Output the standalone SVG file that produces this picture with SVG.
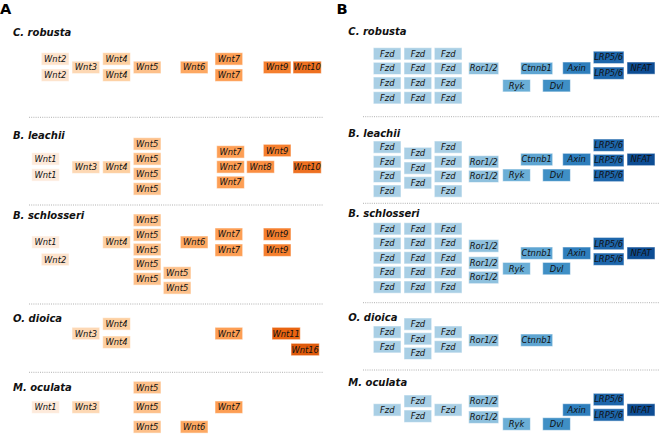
<svg xmlns="http://www.w3.org/2000/svg" width="660" height="434" viewBox="0 0 660 434">
<style>
text{font-family:"DejaVu Sans","Liberation Sans",sans-serif;}
.n rect{stroke:#fff;stroke-opacity:0.55;stroke-width:1;}
.n text{font-size:8.4px;font-style:italic;fill:#111;text-anchor:middle;}
.ttl{font-size:10px;font-weight:bold;font-style:italic;fill:#111;}
.pl{font-size:14.6px;font-weight:bold;fill:#000;}
.sep{stroke:#a8a8a8;stroke-width:0.9;stroke-dasharray:1 1.2;}
.w1{fill:#fdeadb}.w2{fill:#fde3cc}.w3{fill:#fdd8b4}.w4{fill:#fdcfa0}.w5{fill:#fdc08a}.w6{fill:#fda862}.w7{fill:#fd9e54}.w8{fill:#fa8d41}.w9{fill:#f57f2e}.w10{fill:#ee7020}.w11{fill:#e96410}.w16{fill:#df5a0b}
.fz{fill:#a9cfe5}.ro{fill:#8fc1de}.ry{fill:#6aaed6}.ct{fill:#5ea5d2}.dv{fill:#3f8fc5}.ax{fill:#2e7ebc}.lr{fill:#1d66ab}.nf{fill:#0d4d94}
</style>
<g id="labels">
<text class="pl" x="0" y="13.6">A</text>
<text class="pl" x="336.5" y="13.6">B</text>
<text class="ttl" x="13" y="35.5">C. robusta</text>
<text class="ttl" x="13" y="139">B. leachii</text>
<text class="ttl" x="13" y="219">B. schlosseri</text>
<text class="ttl" x="13" y="321.5">O. dioica</text>
<text class="ttl" x="13" y="390.5">M. oculata</text>
<text class="ttl" x="348.3" y="35">C. robusta</text>
<text class="ttl" x="348.3" y="136.7">B. leachii</text>
<text class="ttl" x="348.3" y="217.3">B. schlosseri</text>
<text class="ttl" x="348.3" y="320.7">O. dioica</text>
<text class="ttl" x="348.3" y="386">M. oculata</text>
</g>
<g id="separators">
<line class="sep" x1="29" y1="117.3" x2="323" y2="117.3"/>
<line class="sep" x1="29" y1="205" x2="323" y2="205"/>
<line class="sep" x1="29" y1="304" x2="323" y2="304"/>
<line class="sep" x1="29" y1="372.3" x2="323" y2="372.3"/>
<line class="sep" x1="363" y1="116.7" x2="660" y2="116.7"/>
<line class="sep" x1="363" y1="203.3" x2="660" y2="203.3"/>
<line class="sep" x1="363" y1="302.7" x2="660" y2="302.7"/>
<line class="sep" x1="363" y1="370" x2="660" y2="370"/>
</g>
<g id="connectors"></g>

<!-- Panel A: C. robusta -->
<g id="a-cr-wnt2-1" class="n"><rect class="w2" x="41.3" y="52.7" width="27.7" height="12.4"/><text x="55.2" y="61.9">Wnt2</text></g>
<g id="a-cr-wnt2-2" class="n"><rect class="w2" x="41.3" y="69" width="27.7" height="12.4"/><text x="55.2" y="78.2">Wnt2</text></g>
<g id="a-cr-wnt3" class="n"><rect class="w3" x="72" y="61.2" width="27.7" height="12.4"/><text x="85.9" y="70.4">Wnt3</text></g>
<g id="a-cr-wnt4-1" class="n"><rect class="w4" x="102.7" y="52.7" width="27.7" height="12.4"/><text x="116.6" y="61.9">Wnt4</text></g>
<g id="a-cr-wnt4-2" class="n"><rect class="w4" x="102.7" y="69" width="27.7" height="12.4"/><text x="116.6" y="78.2">Wnt4</text></g>
<g id="a-cr-wnt5" class="n"><rect class="w5" x="133.3" y="61.2" width="27.7" height="12.4"/><text x="147.2" y="70.4">Wnt5</text></g>
<g id="a-cr-wnt6" class="n"><rect class="w6" x="180.3" y="61.2" width="27.7" height="12.4"/><text x="194.2" y="70.4">Wnt6</text></g>
<g id="a-cr-wnt7-1" class="n"><rect class="w7" x="215" y="52.7" width="27.7" height="12.4"/><text x="228.9" y="61.9">Wnt7</text></g>
<g id="a-cr-wnt7-2" class="n"><rect class="w7" x="215" y="69" width="27.7" height="12.4"/><text x="228.9" y="78.2">Wnt7</text></g>
<g id="a-cr-wnt9" class="n"><rect class="w9" x="263.3" y="61.2" width="27.7" height="12.4"/><text x="277.2" y="70.4">Wnt9</text></g>
<g id="a-cr-wnt10" class="n"><rect class="w10" x="293" y="61.2" width="28.3" height="12.4"/><text x="307.2" y="70.4">Wnt10</text></g>

<!-- Panel A: B. leachii -->
<g id="a-bl-wnt1-1" class="n"><rect class="w1" x="31.7" y="152.7" width="27.7" height="12.4"/><text x="45.6" y="161.9">Wnt1</text></g>
<g id="a-bl-wnt1-2" class="n"><rect class="w1" x="31.7" y="168.7" width="27.7" height="12.4"/><text x="45.6" y="177.9">Wnt1</text></g>
<g id="a-bl-wnt3" class="n"><rect class="w3" x="72" y="161" width="27.7" height="12.4"/><text x="85.9" y="170.2">Wnt3</text></g>
<g id="a-bl-wnt4" class="n"><rect class="w4" x="102.7" y="161" width="27.7" height="12.4"/><text x="116.6" y="170.2">Wnt4</text></g>
<g id="a-bl-wnt5-1" class="n"><rect class="w5" x="133.3" y="137.7" width="27.7" height="12.4"/><text x="147.2" y="146.9">Wnt5</text></g>
<g id="a-bl-wnt5-2" class="n"><rect class="w5" x="133.3" y="152.7" width="27.7" height="12.4"/><text x="147.2" y="161.9">Wnt5</text></g>
<g id="a-bl-wnt5-3" class="n"><rect class="w5" x="133.3" y="167.7" width="27.7" height="12.4"/><text x="147.2" y="176.9">Wnt5</text></g>
<g id="a-bl-wnt5-4" class="n"><rect class="w5" x="133.3" y="182.7" width="27.7" height="12.4"/><text x="147.2" y="191.9">Wnt5</text></g>
<g id="a-bl-wnt7-1" class="n"><rect class="w7" x="216.7" y="145.7" width="27.7" height="12.4"/><text x="230.6" y="154.9">Wnt7</text></g>
<g id="a-bl-wnt7-2" class="n"><rect class="w7" x="216.7" y="160.7" width="27.7" height="12.4"/><text x="230.6" y="169.9">Wnt7</text></g>
<g id="a-bl-wnt7-3" class="n"><rect class="w7" x="216.7" y="176.2" width="27.7" height="12.4"/><text x="230.6" y="185.4">Wnt7</text></g>
<g id="a-bl-wnt8" class="n"><rect class="w8" x="246.7" y="160.7" width="27.7" height="12.4"/><text x="260.6" y="169.9">Wnt8</text></g>
<g id="a-bl-wnt9" class="n"><rect class="w9" x="263.3" y="144.3" width="27.7" height="12.4"/><text x="277.2" y="153.5">Wnt9</text></g>
<g id="a-bl-wnt10" class="n"><rect class="w10" x="293" y="161" width="28.3" height="12.4"/><text x="307.2" y="170.2">Wnt10</text></g>

<!-- Panel A: B. schlosseri -->
<g id="a-bs-wnt1" class="n"><rect class="w1" x="31.7" y="236" width="27.7" height="12.4"/><text x="45.6" y="245.2">Wnt1</text></g>
<g id="a-bs-wnt2" class="n"><rect class="w2" x="41.3" y="253.3" width="27.7" height="12.4"/><text x="55.2" y="262.5">Wnt2</text></g>
<g id="a-bs-wnt4" class="n"><rect class="w4" x="102.7" y="236" width="27.7" height="12.4"/><text x="116.6" y="245.2">Wnt4</text></g>
<g id="a-bs-wnt5-1" class="n"><rect class="w5" x="133.3" y="214" width="27.7" height="12.4"/><text x="147.2" y="223.2">Wnt5</text></g>
<g id="a-bs-wnt5-2" class="n"><rect class="w5" x="133.3" y="228.7" width="27.7" height="12.4"/><text x="147.2" y="237.9">Wnt5</text></g>
<g id="a-bs-wnt5-3" class="n"><rect class="w5" x="133.3" y="243.3" width="27.7" height="12.4"/><text x="147.2" y="252.5">Wnt5</text></g>
<g id="a-bs-wnt5-4" class="n"><rect class="w5" x="133.3" y="258" width="27.7" height="12.4"/><text x="147.2" y="267.2">Wnt5</text></g>
<g id="a-bs-wnt5-5" class="n"><rect class="w5" x="133.3" y="272.7" width="27.7" height="12.4"/><text x="147.2" y="281.9">Wnt5</text></g>
<g id="a-bs-wnt5-6" class="n"><rect class="w5" x="163.3" y="266.7" width="27.7" height="12.4"/><text x="177.2" y="275.9">Wnt5</text></g>
<g id="a-bs-wnt5-7" class="n"><rect class="w5" x="163.3" y="281.7" width="27.7" height="12.4"/><text x="177.2" y="290.9">Wnt5</text></g>
<g id="a-bs-wnt6" class="n"><rect class="w6" x="180.3" y="236" width="27.7" height="12.4"/><text x="194.2" y="245.2">Wnt6</text></g>
<g id="a-bs-wnt7-1" class="n"><rect class="w7" x="215" y="228" width="27.7" height="12.4"/><text x="228.9" y="237.2">Wnt7</text></g>
<g id="a-bs-wnt7-2" class="n"><rect class="w7" x="215" y="244" width="27.7" height="12.4"/><text x="228.9" y="253.2">Wnt7</text></g>
<g id="a-bs-wnt9-1" class="n"><rect class="w9" x="263.3" y="228" width="27.7" height="12.4"/><text x="277.2" y="237.2">Wnt9</text></g>
<g id="a-bs-wnt9-2" class="n"><rect class="w9" x="263.3" y="244" width="27.7" height="12.4"/><text x="277.2" y="253.2">Wnt9</text></g>

<!-- Panel A: O. dioica -->
<g id="a-od-wnt3" class="n"><rect class="w3" x="72" y="327.3" width="27.7" height="12.4"/><text x="85.9" y="336.5">Wnt3</text></g>
<g id="a-od-wnt4-1" class="n"><rect class="w4" x="102.7" y="317.7" width="27.7" height="12.4"/><text x="116.6" y="326.9">Wnt4</text></g>
<g id="a-od-wnt4-2" class="n"><rect class="w4" x="102.7" y="336" width="27.7" height="12.4"/><text x="116.6" y="345.2">Wnt4</text></g>
<g id="a-od-wnt7" class="n"><rect class="w7" x="215" y="327.3" width="27.7" height="12.4"/><text x="228.9" y="336.5">Wnt7</text></g>
<g id="a-od-wnt11" class="n"><rect class="w11" x="272" y="327.3" width="28.3" height="12.4"/><text x="286.2" y="336.5">Wnt11</text></g>
<g id="a-od-wnt16" class="n"><rect class="w16" x="291" y="343.3" width="28.3" height="12.4"/><text x="305.2" y="352.5">Wnt16</text></g>

<!-- Panel A: M. oculata -->
<g id="a-mo-wnt1" class="n"><rect class="w1" x="31.7" y="401" width="27.7" height="12.4"/><text x="45.6" y="410.2">Wnt1</text></g>
<g id="a-mo-wnt3" class="n"><rect class="w3" x="72" y="401" width="27.7" height="12.4"/><text x="85.9" y="410.2">Wnt3</text></g>
<g id="a-mo-wnt5-1" class="n"><rect class="w5" x="133.3" y="381.3" width="27.7" height="12.4"/><text x="147.2" y="390.5">Wnt5</text></g>
<g id="a-mo-wnt5-2" class="n"><rect class="w5" x="133.3" y="401" width="27.7" height="12.4"/><text x="147.2" y="410.2">Wnt5</text></g>
<g id="a-mo-wnt5-3" class="n"><rect class="w5" x="133.3" y="420.7" width="27.7" height="12.4"/><text x="147.2" y="429.9">Wnt5</text></g>
<g id="a-mo-wnt6" class="n"><rect class="w6" x="180.3" y="420.7" width="27.7" height="12.4"/><text x="194.2" y="429.9">Wnt6</text></g>
<g id="a-mo-wnt7" class="n"><rect class="w7" x="215" y="401" width="27.7" height="12.4"/><text x="228.9" y="410.2">Wnt7</text></g>

<!-- Panel B: C. robusta -->
<g id="b-cr-fzd-1" class="n"><rect class="fz" x="373.3" y="47.7" width="27.7" height="12.2"/><text x="387.2" y="56.8">Fzd</text></g>
<g id="b-cr-fzd-2" class="n"><rect class="fz" x="404" y="47.7" width="27.7" height="12.2"/><text x="417.9" y="56.8">Fzd</text></g>
<g id="b-cr-fzd-3" class="n"><rect class="fz" x="434.3" y="47.7" width="27.7" height="12.2"/><text x="448.2" y="56.8">Fzd</text></g>
<g id="b-cr-fzd-4" class="n"><rect class="fz" x="373.3" y="62.3" width="27.7" height="12.2"/><text x="387.2" y="71.4">Fzd</text></g>
<g id="b-cr-fzd-5" class="n"><rect class="fz" x="404" y="62.3" width="27.7" height="12.2"/><text x="417.9" y="71.4">Fzd</text></g>
<g id="b-cr-fzd-6" class="n"><rect class="fz" x="434.3" y="62.3" width="27.7" height="12.2"/><text x="448.2" y="71.4">Fzd</text></g>
<g id="b-cr-fzd-7" class="n"><rect class="fz" x="373.3" y="77" width="27.7" height="12.2"/><text x="387.2" y="86.1">Fzd</text></g>
<g id="b-cr-fzd-8" class="n"><rect class="fz" x="404" y="77" width="27.7" height="12.2"/><text x="417.9" y="86.1">Fzd</text></g>
<g id="b-cr-fzd-9" class="n"><rect class="fz" x="434.3" y="77" width="27.7" height="12.2"/><text x="448.2" y="86.1">Fzd</text></g>
<g id="b-cr-fzd-10" class="n"><rect class="fz" x="373.3" y="91.7" width="27.7" height="12.2"/><text x="387.2" y="100.8">Fzd</text></g>
<g id="b-cr-fzd-11" class="n"><rect class="fz" x="404" y="91.7" width="27.7" height="12.2"/><text x="417.9" y="100.8">Fzd</text></g>
<g id="b-cr-fzd-12" class="n"><rect class="fz" x="434.3" y="91.7" width="27.7" height="12.2"/><text x="448.2" y="100.8">Fzd</text></g>
<g id="b-cr-ror" class="n"><rect class="ro" x="468.7" y="62.3" width="30" height="12.2"/><text x="483.7" y="71.4">Ror1/2</text></g>
<g id="b-cr-ctnnb1" class="n"><rect class="ct" x="520.7" y="62.3" width="32" height="12.2"/><text x="536.7" y="71.4">Ctnnb1</text></g>
<g id="b-cr-ryk" class="n"><rect class="ry" x="502.7" y="79.5" width="27.7" height="12.4"/><text x="516.6" y="88.6">Ryk</text></g>
<g id="b-cr-axin" class="n"><rect class="ax" x="562.7" y="62" width="28" height="12.2"/><text x="576.7" y="71.1">Axin</text></g>
<g id="b-cr-dvl" class="n"><rect class="dv" x="542.7" y="79.5" width="27.7" height="12.4"/><text x="556.6" y="88.6">Dvl</text></g>
<g id="b-cr-lrp-1" class="n"><rect class="lr" x="593.3" y="51.2" width="30.7" height="12.4"/><text x="608.7" y="60.3">LRP5/6</text></g>
<g id="b-cr-lrp-2" class="n"><rect class="lr" x="593.3" y="67" width="30.7" height="12.4"/><text x="608.7" y="76.1">LRP5/6</text></g>
<g id="b-cr-nfat" class="n"><rect class="nf" x="627" y="62" width="28" height="12.2"/><text x="641" y="71.1">NFAT</text></g>

<!-- Panel B: B. leachii -->
<g id="b-bl-fzd-1" class="n"><rect class="fz" x="373.3" y="141" width="27.7" height="12.2"/><text x="387.2" y="150.1">Fzd</text></g>
<g id="b-bl-fzd-2" class="n"><rect class="fz" x="373.3" y="155.7" width="27.7" height="12.2"/><text x="387.2" y="164.8">Fzd</text></g>
<g id="b-bl-fzd-3" class="n"><rect class="fz" x="373.3" y="170.3" width="27.7" height="12.2"/><text x="387.2" y="179.4">Fzd</text></g>
<g id="b-bl-fzd-4" class="n"><rect class="fz" x="373.3" y="185" width="27.7" height="12.2"/><text x="387.2" y="194.1">Fzd</text></g>
<g id="b-bl-fzd-5" class="n"><rect class="fz" x="404" y="147.3" width="27.7" height="12.2"/><text x="417.9" y="156.4">Fzd</text></g>
<g id="b-bl-fzd-6" class="n"><rect class="fz" x="404" y="162" width="27.7" height="12.2"/><text x="417.9" y="171.1">Fzd</text></g>
<g id="b-bl-fzd-7" class="n"><rect class="fz" x="404" y="176.7" width="27.7" height="12.2"/><text x="417.9" y="185.8">Fzd</text></g>
<g id="b-bl-fzd-8" class="n"><rect class="fz" x="434.3" y="141" width="27.7" height="12.2"/><text x="448.2" y="150.1">Fzd</text></g>
<g id="b-bl-fzd-9" class="n"><rect class="fz" x="434.3" y="155.7" width="27.7" height="12.2"/><text x="448.2" y="164.8">Fzd</text></g>
<g id="b-bl-fzd-10" class="n"><rect class="fz" x="434.3" y="170.3" width="27.7" height="12.2"/><text x="448.2" y="179.4">Fzd</text></g>
<g id="b-bl-fzd-11" class="n"><rect class="fz" x="434.3" y="185" width="27.7" height="12.2"/><text x="448.2" y="194.1">Fzd</text></g>
<g id="b-bl-ror-1" class="n"><rect class="ro" x="468.7" y="155.7" width="30" height="12.2"/><text x="483.7" y="164.8">Ror1/2</text></g>
<g id="b-bl-ror-2" class="n"><rect class="ro" x="468.7" y="170.3" width="30" height="12.2"/><text x="483.7" y="179.4">Ror1/2</text></g>
<g id="b-bl-ctnnb1" class="n"><rect class="ct" x="520.7" y="153.3" width="32" height="12.4"/><text x="536.7" y="162.4">Ctnnb1</text></g>
<g id="b-bl-ryk" class="n"><rect class="ry" x="502.7" y="169" width="27.7" height="12.4"/><text x="516.6" y="178.1">Ryk</text></g>
<g id="b-bl-axin" class="n"><rect class="ax" x="562.7" y="153.3" width="28" height="12.4"/><text x="576.7" y="162.4">Axin</text></g>
<g id="b-bl-dvl" class="n"><rect class="dv" x="542.7" y="169" width="27.7" height="12.4"/><text x="556.6" y="178.1">Dvl</text></g>
<g id="b-bl-lrp-1" class="n"><rect class="lr" x="593.3" y="139" width="30.7" height="12.4"/><text x="608.7" y="148.1">LRP5/6</text></g>
<g id="b-bl-lrp-2" class="n"><rect class="lr" x="593.3" y="154.3" width="30.7" height="12.4"/><text x="608.7" y="163.4">LRP5/6</text></g>
<g id="b-bl-lrp-3" class="n"><rect class="lr" x="593.3" y="169.3" width="30.7" height="12.4"/><text x="608.7" y="178.4">LRP5/6</text></g>
<g id="b-bl-nfat" class="n"><rect class="nf" x="627" y="153.3" width="28" height="12.4"/><text x="641" y="162.4">NFAT</text></g>

<!-- Panel B: B. schlosseri -->
<g id="b-bs-fzd-1" class="n"><rect class="fz" x="373.3" y="222.7" width="27.7" height="12.2"/><text x="387.2" y="231.8">Fzd</text></g>
<g id="b-bs-fzd-2" class="n"><rect class="fz" x="404" y="222.7" width="27.7" height="12.2"/><text x="417.9" y="231.8">Fzd</text></g>
<g id="b-bs-fzd-3" class="n"><rect class="fz" x="434.3" y="222.7" width="27.7" height="12.2"/><text x="448.2" y="231.8">Fzd</text></g>
<g id="b-bs-fzd-4" class="n"><rect class="fz" x="373.3" y="237.3" width="27.7" height="12.2"/><text x="387.2" y="246.4">Fzd</text></g>
<g id="b-bs-fzd-5" class="n"><rect class="fz" x="404" y="237.3" width="27.7" height="12.2"/><text x="417.9" y="246.4">Fzd</text></g>
<g id="b-bs-fzd-6" class="n"><rect class="fz" x="434.3" y="237.3" width="27.7" height="12.2"/><text x="448.2" y="246.4">Fzd</text></g>
<g id="b-bs-fzd-7" class="n"><rect class="fz" x="373.3" y="251.7" width="27.7" height="12.2"/><text x="387.2" y="260.8">Fzd</text></g>
<g id="b-bs-fzd-8" class="n"><rect class="fz" x="404" y="251.7" width="27.7" height="12.2"/><text x="417.9" y="260.8">Fzd</text></g>
<g id="b-bs-fzd-9" class="n"><rect class="fz" x="434.3" y="251.7" width="27.7" height="12.2"/><text x="448.2" y="260.8">Fzd</text></g>
<g id="b-bs-fzd-10" class="n"><rect class="fz" x="373.3" y="266.3" width="27.7" height="12.2"/><text x="387.2" y="275.4">Fzd</text></g>
<g id="b-bs-fzd-11" class="n"><rect class="fz" x="404" y="266.3" width="27.7" height="12.2"/><text x="417.9" y="275.4">Fzd</text></g>
<g id="b-bs-fzd-12" class="n"><rect class="fz" x="434.3" y="266.3" width="27.7" height="12.2"/><text x="448.2" y="275.4">Fzd</text></g>
<g id="b-bs-fzd-13" class="n"><rect class="fz" x="373.3" y="281" width="27.7" height="12.2"/><text x="387.2" y="290.1">Fzd</text></g>
<g id="b-bs-fzd-14" class="n"><rect class="fz" x="404" y="281" width="27.7" height="12.2"/><text x="417.9" y="290.1">Fzd</text></g>
<g id="b-bs-fzd-15" class="n"><rect class="fz" x="434.3" y="281" width="27.7" height="12.2"/><text x="448.2" y="290.1">Fzd</text></g>
<g id="b-bs-ror-1" class="n"><rect class="ro" x="468.7" y="239.6" width="30" height="12.6"/><text x="483.7" y="248.9">Ror1/2</text></g>
<g id="b-bs-ror-2" class="n"><rect class="ro" x="468.7" y="256.7" width="30" height="12.4"/><text x="483.7" y="265.8">Ror1/2</text></g>
<g id="b-bs-ror-3" class="n"><rect class="ro" x="468.7" y="271.3" width="30" height="12.4"/><text x="483.7" y="280.4">Ror1/2</text></g>
<g id="b-bs-ctnnb1" class="n"><rect class="ct" x="520.7" y="247" width="32" height="12.4"/><text x="536.7" y="256.1">Ctnnb1</text></g>
<g id="b-bs-ryk" class="n"><rect class="ry" x="502.7" y="262.4" width="27.7" height="12.4"/><text x="516.6" y="271.5">Ryk</text></g>
<g id="b-bs-axin" class="n"><rect class="ax" x="562.7" y="247" width="28" height="12.4"/><text x="576.7" y="256.1">Axin</text></g>
<g id="b-bs-dvl" class="n"><rect class="dv" x="542.7" y="262.4" width="27.7" height="12.4"/><text x="556.6" y="271.5">Dvl</text></g>
<g id="b-bs-lrp-1" class="n"><rect class="lr" x="593.3" y="237.4" width="30.7" height="12.4"/><text x="608.7" y="246.5">LRP5/6</text></g>
<g id="b-bs-lrp-2" class="n"><rect class="lr" x="593.3" y="253" width="30.7" height="12.4"/><text x="608.7" y="262.1">LRP5/6</text></g>
<g id="b-bs-nfat" class="n"><rect class="nf" x="627" y="247" width="28" height="12.4"/><text x="641" y="256.1">NFAT</text></g>

<!-- Panel B: O. dioica -->
<g id="b-od-fzd-1" class="n"><rect class="fz" x="373.3" y="326" width="27.7" height="12.2"/><text x="387.2" y="335.1">Fzd</text></g>
<g id="b-od-fzd-2" class="n"><rect class="fz" x="373.3" y="340.7" width="27.7" height="12.2"/><text x="387.2" y="349.8">Fzd</text></g>
<g id="b-od-fzd-3" class="n"><rect class="fz" x="404" y="318" width="27.7" height="12.2"/><text x="417.9" y="327.1">Fzd</text></g>
<g id="b-od-fzd-4" class="n"><rect class="fz" x="404" y="332.7" width="27.7" height="12.2"/><text x="417.9" y="341.8">Fzd</text></g>
<g id="b-od-fzd-5" class="n"><rect class="fz" x="404" y="347.3" width="27.7" height="12.2"/><text x="417.9" y="356.4">Fzd</text></g>
<g id="b-od-fzd-6" class="n"><rect class="fz" x="434.3" y="326" width="27.7" height="12.2"/><text x="448.2" y="335.1">Fzd</text></g>
<g id="b-od-fzd-7" class="n"><rect class="fz" x="434.3" y="340.7" width="27.7" height="12.2"/><text x="448.2" y="349.8">Fzd</text></g>
<g id="b-od-ror" class="n"><rect class="ro" x="468.7" y="334" width="30" height="12.4"/><text x="483.7" y="343.1">Ror1/2</text></g>
<g id="b-od-ctnnb1" class="n"><rect class="ct" x="520.7" y="334" width="32" height="12.4"/><text x="536.7" y="343.1">Ctnnb1</text></g>

<!-- Panel B: M. oculata -->
<g id="b-mo-fzd-1" class="n"><rect class="fz" x="373.3" y="403.7" width="27.7" height="12.4"/><text x="387.2" y="412.8">Fzd</text></g>
<g id="b-mo-fzd-2" class="n"><rect class="fz" x="404" y="395" width="27.7" height="12.4"/><text x="417.9" y="404.1">Fzd</text></g>
<g id="b-mo-fzd-3" class="n"><rect class="fz" x="404" y="410" width="27.7" height="12.4"/><text x="417.9" y="419.1">Fzd</text></g>
<g id="b-mo-fzd-4" class="n"><rect class="fz" x="434.3" y="403.7" width="27.7" height="12.4"/><text x="448.2" y="412.8">Fzd</text></g>
<g id="b-mo-ror-1" class="n"><rect class="ro" x="468.7" y="395" width="30" height="12.4"/><text x="483.7" y="404.1">Ror1/2</text></g>
<g id="b-mo-ror-2" class="n"><rect class="ro" x="468.7" y="411" width="30" height="12.4"/><text x="483.7" y="420.1">Ror1/2</text></g>
<g id="b-mo-ryk" class="n"><rect class="ry" x="502.7" y="417.7" width="27.7" height="12.6"/><text x="516.6" y="426.9">Ryk</text></g>
<g id="b-mo-dvl" class="n"><rect class="dv" x="542.7" y="417.7" width="27.7" height="12.6"/><text x="556.6" y="426.9">Dvl</text></g>
<g id="b-mo-axin" class="n"><rect class="ax" x="562.7" y="403.7" width="28" height="12.4"/><text x="576.7" y="412.8">Axin</text></g>
<g id="b-mo-lrp-1" class="n"><rect class="lr" x="593.3" y="393.3" width="30.7" height="12.4"/><text x="608.7" y="402.4">LRP5/6</text></g>
<g id="b-mo-lrp-2" class="n"><rect class="lr" x="593.3" y="408.7" width="30.7" height="12.4"/><text x="608.7" y="417.8">LRP5/6</text></g>
<g id="b-mo-nfat" class="n"><rect class="nf" x="627" y="403.7" width="28" height="12.4"/><text x="641" y="412.8">NFAT</text></g>
</svg>
